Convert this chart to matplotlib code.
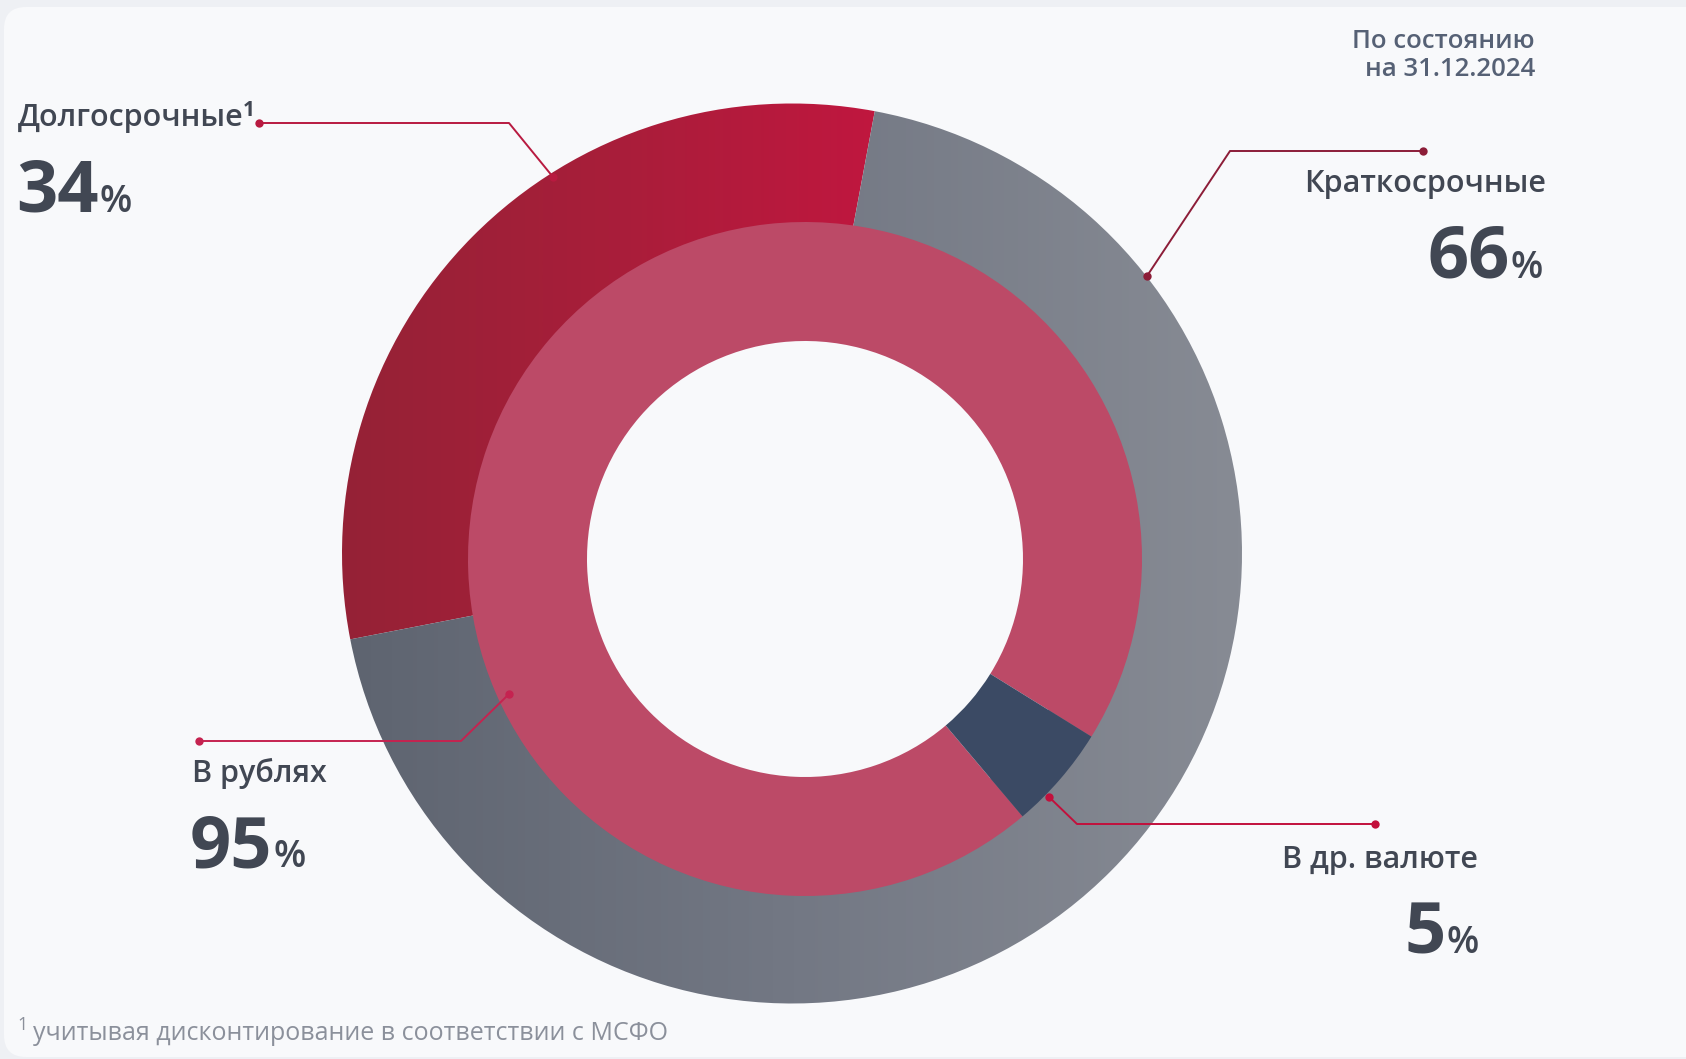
import matplotlib
matplotlib.use('Agg')
import matplotlib.pyplot as plt
import numpy as np
from matplotlib.patches import FancyBboxPatch
from matplotlib.colors import LinearSegmentedColormap

plt.rcParams['font.family'] = ['Open Sans', 'DejaVu Sans']

# data
term_labels = ['Долгосрочные', 'Краткосрочные']
term_pct = [34, 66]        # values printed on the chart
term_arc = [31, 69]        # share of the outer ring as it is drawn in the picture
currency_labels = ['В рублях', 'В др. валюте']
currency_pct = [95, 5]
date_note = ['По состоянию', 'на 31.12.2024']
footnote = 'учитывая дисконтирование в соответствии с МСФО'

W, H = 1686, 1059
DARK = '#414753'


def Y(y):
  # picture rows are counted from the top
  return H - y


fig = plt.figure(figsize=(W / 100, H / 100), dpi=100, facecolor='#eef0f4')
ax = fig.add_axes([0, 0, 1, 1])
ax.set_axis_off()

panel = FancyBboxPatch((4, Y(1057)), 1720, 1050,
                       boxstyle='round,pad=0,rounding_size=22',
                       fc='#f8f9fb', ec='none', zorder=0)
ax.add_patch(panel)

# outer ring: term structure, gradient filled
oc = (792, Y(553.5))
outer, _ = ax.pie(term_arc, center=oc, radius=450, startangle=79.4,
                  counterclock=True, wedgeprops=dict(width=150, fc='none', ec='none'))
grads = [
  (['#952236', '#a81e3a', '#c0173f'], (342, 876)),
  (['#5e6470', '#737884', '#878b94'], (345, 1243)),
]
for w, (cols, (x0, x1)) in zip(outer, grads):
  cmap = LinearSegmentedColormap.from_list('g', cols)
  im = ax.imshow(np.linspace(0, 1, 256)[None, :], cmap=cmap, aspect='auto',
                 extent=(x0, x1, Y(1010), Y(95)), interpolation='bilinear', zorder=2)
  im.set_clip_path(w)

# inner ring: currency structure
ic = (805, Y(559))
ax.pie(currency_pct, center=ic, radius=337, startangle=-31.8, counterclock=True,
       colors=['#bc4a67', '#3b4a64'],
       wedgeprops=dict(width=119, ec='none', zorder=3))

# leader lines
leaders = [
  ([259, 509, 553], [123, 123, 177], '#b81a40'),
  ([1147, 1230, 1423], [276, 151, 151], '#8c1d38'),
  ([199, 461, 509], [741, 741, 694], '#c52350'),
  ([1049, 1077, 1375], [797, 824, 824], '#c2103c'),
]
for xs, ys, c in leaders:
  ax.plot(xs, [Y(v) for v in ys], color=c, lw=1.4, zorder=5, solid_capstyle='butt')
  ax.plot([xs[0], xs[-1]], [Y(ys[0]), Y(ys[-1])], 'o', color=c, ms=6, mec='none', zorder=6)

ax.set_xlim(0, W)
ax.set_ylim(0, H)
ax.set_aspect('auto')

fig.canvas.draw()
r = fig.canvas.get_renderer()

LAB = dict(fontsize=22, color=DARK, weight='semibold', va='baseline', zorder=7)
NUM = dict(fontsize=52, color=DARK, weight='bold', va='baseline', zorder=7)
PCT = dict(fontsize=27, color=DARK, weight='semibold', va='baseline', zorder=7)


def pct_left(x, y, v):
  t = ax.text(x, Y(y), str(v), ha='left', **NUM)
  bb = t.get_window_extent(r)
  ax.text(bb.x1 + 1, Y(y), '%', ha='left', **PCT)


def pct_right(x, y, v):
  t = ax.text(x, Y(y), '%', ha='right', **PCT)
  bb = t.get_window_extent(r)
  ax.text(bb.x0 - 1, Y(y), str(v), ha='right', **NUM)


# Долгосрочные with footnote mark
t = ax.text(18, Y(126), term_labels[0], ha='left', **LAB)
bb = t.get_window_extent(r)
ax.text(bb.x1 - 1, Y(116), '1', ha='left', va='baseline', fontsize=15,
        color=DARK, weight='bold')
pct_left(16, 212, term_pct[0])

ax.text(1546, Y(192), term_labels[1], ha='right', **LAB)
pct_right(1543, 278, term_pct[1])

ax.text(192, Y(782), currency_labels[0], ha='left', **LAB)
pct_left(190, 867, currency_pct[0])

ax.text(1478, Y(868), currency_labels[1], ha='right', **LAB)
pct_right(1479, 953, currency_pct[1])

ax.text(1535, Y(48), date_note[0], ha='right', va='baseline', fontsize=18.5,
        color='#566175', weight='semibold')
ax.text(1535, Y(76), date_note[1], ha='right', va='baseline', fontsize=18.5,
        color='#566175', weight='semibold')

ax.text(17, Y(1030), '1', ha='left', va='baseline', fontsize=13, color='#8b909b')
ax.text(33, Y(1040), footnote, ha='left', va='baseline', fontsize=18, color='#8b909b')

fig.savefig('out.png', dpi=100, facecolor=fig.get_facecolor())
